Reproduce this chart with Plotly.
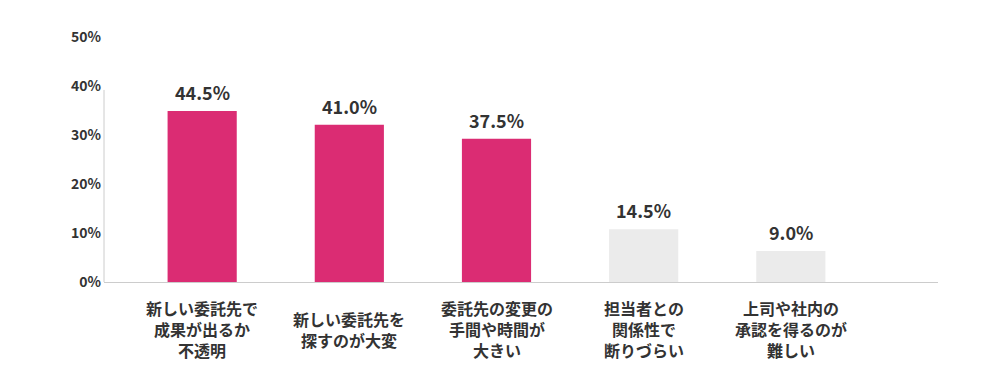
import plotly.graph_objects as go

categories = [
    "新しい委託先で<br>成果が出るか<br>不透明",
    "新しい委託先を<br>探すのが大変",
    "委託先の変更の<br>手間や時間が<br>大きい",
    "担当者との<br>関係性で<br>断りづらい",
    "上司や社内の<br>承認を得るのが<br>難しい",
]
values = [44.5, 41.0, 37.5, 14.5, 9.0]
bar_colors = ["#DB2C73", "#DB2C73", "#DB2C73", "#EBEBEB", "#EBEBEB"]
tick_values = [0, 10, 20, 30, 40, 50]
tick_labels = ["0%", "10%", "20%", "30%", "40%", "50%"]

FONT = "Noto Sans CJK JP"
TXT = "#333333"

x_idx = list(range(len(categories)))

fig = go.Figure()
fig.add_trace(go.Bar(
    x=x_idx, y=values, yaxis="y2",
    marker=dict(color=bar_colors, line=dict(width=0)),
    width=0.47, hoverinfo="skip",
))
fig.add_trace(go.Scatter(x=[0], y=[0], mode="markers", marker=dict(opacity=0),
                         yaxis="y", hoverinfo="skip", showlegend=False))

for i, v in enumerate(values):
    fig.add_annotation(x=i, y=v, xref="x", yref="y2", text=f"<b>{v:.1f}%</b>",
                       showarrow=False, yanchor="bottom", yshift=4,
                       font=dict(family=FONT, size=18, color=TXT))
    fig.add_annotation(x=i, y=-0.2, xref="x", yref="paper", text=f"<b>{categories[i]}</b>",
                       showarrow=False, yanchor="middle", align="center", yshift=2,
                       font=dict(family=FONT, size=16, color=TXT))

fig.add_shape(type="line", xref="paper", yref="y", x0=0, x1=0, y0=0, y1=39.2,
              line=dict(color="#CCCCCC", width=1))

fig.update_layout(
    width=983, height=390,
    margin=dict(l=96, r=53, t=29, b=116),
    plot_bgcolor="white", paper_bgcolor="white",
    showlegend=False,
    xaxis=dict(range=[-0.667, 5.0], showticklabels=False, showgrid=False,
               zeroline=False, showline=True, linecolor="#CCCCCC", linewidth=1,
               ticks=""),
    yaxis=dict(range=[0, 50], tickvals=tick_values, ticktext=[f"<b>{t}</b>" for t in tick_labels],
               showgrid=False, zeroline=False, showline=False, ticks="",
               ticklabelstandoff=2,
               tickfont=dict(family=FONT, size=14, color=TXT)),
    yaxis2=dict(range=[1.12, 63.3], overlaying="y", visible=False, showgrid=False,
                zeroline=False),
)

fig.write_html("out.html")
